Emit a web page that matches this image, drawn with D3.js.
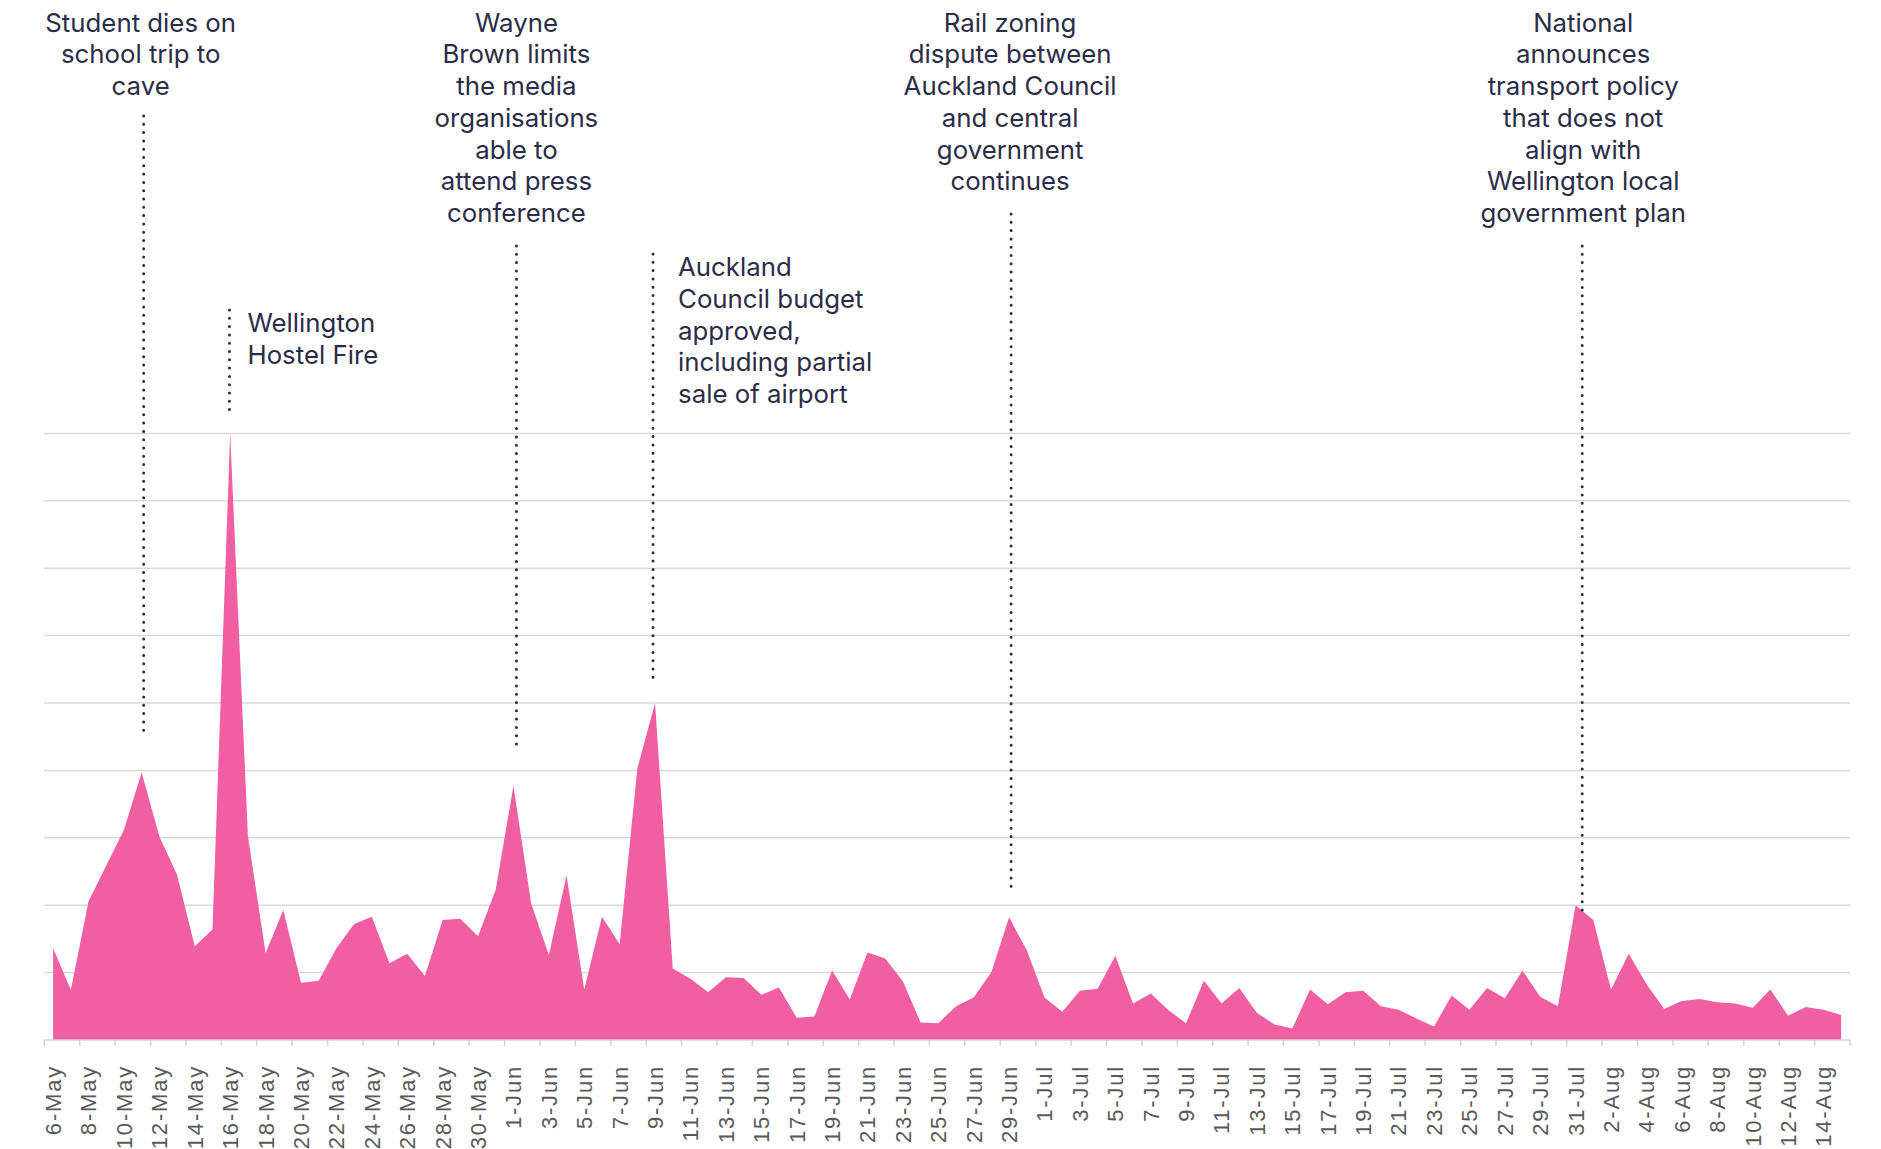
<!DOCTYPE html>
<html>
<head>
<meta charset="utf-8">
<script src="https://cdn.jsdelivr.net/npm/d3@7"></script>
<style>
  html, body { margin: 0; padding: 0; background: #ffffff; }
  svg { display: block; }
</style>
</head>
<body>
<svg id="chart" width="1881" height="1149"></svg>
<script>
// ---------- DATA ----------
const dates = [
  "6-May","7-May","8-May","9-May","10-May","11-May","12-May","13-May","14-May","15-May",
  "16-May","17-May","18-May","19-May","20-May","21-May","22-May","23-May","24-May","25-May",
  "26-May","27-May","28-May","29-May","30-May","31-May","1-Jun","2-Jun","3-Jun","4-Jun",
  "5-Jun","6-Jun","7-Jun","8-Jun","9-Jun","10-Jun","11-Jun","12-Jun","13-Jun","14-Jun",
  "15-Jun","16-Jun","17-Jun","18-Jun","19-Jun","20-Jun","21-Jun","22-Jun","23-Jun","24-Jun",
  "25-Jun","26-Jun","27-Jun","28-Jun","29-Jun","30-Jun","1-Jul","2-Jul","3-Jul","4-Jul",
  "5-Jul","6-Jul","7-Jul","8-Jul","9-Jul","10-Jul","11-Jul","12-Jul","13-Jul","14-Jul",
  "15-Jul","16-Jul","17-Jul","18-Jul","19-Jul","20-Jul","21-Jul","22-Jul","23-Jul","24-Jul",
  "25-Jul","26-Jul","27-Jul","28-Jul","29-Jul","30-Jul","31-Jul","1-Aug","2-Aug","3-Aug",
  "4-Aug","5-Aug","6-Aug","7-Aug","8-Aug","9-Aug","10-Aug","11-Aug","12-Aug","13-Aug",
  "14-Aug","15-Aug"
];

const mentions = [
  136, 74, 206, 259, 312, 397, 302, 245, 139, 164,
  900, 303, 129, 193, 85, 88, 136, 172, 183, 114,
  128, 95, 178, 180, 154, 223, 377, 203, 126, 244,
  75, 183, 142, 403, 500, 106, 91, 71, 93, 92,
  67, 78, 33, 35, 103, 60, 130, 121, 87, 26,
  25, 50, 63, 101, 182, 133, 63, 42, 73, 76,
  125, 54, 69, 44, 25, 88, 54, 77, 40, 23,
  17, 75, 53, 71, 73, 50, 45, 32, 20, 66,
  45, 77, 62, 103, 64, 50, 200, 178, 75, 128,
  83, 46, 58, 61, 56, 54, 48, 75, 36, 49,
  45, 37
];

const gridValues = [100, 200, 300, 400, 500, 600, 700, 800, 900];

const annotationDates = ["11-May", "16-May", "1-Jun", "9-Jun", "29-Jun", "31-Jul"];
const annotationTexts = [
  ["Student dies on", "school trip to", "cave"],
  ["Wellington", "Hostel Fire"],
  ["Wayne", "Brown limits", "the media", "organisations", "able to", "attend press", "conference"],
  ["Auckland", "Council budget", "approved,", "including partial", "sale of airport"],
  ["Rail zoning", "dispute between", "Auckland Council", "and central", "government", "continues"],
  ["National", "announces", "transport policy", "that does not", "align with", "Wellington local", "government plan"]
];

// ---------- LAYOUT (positions / styles, not data) ----------
const annotationLayout = [
  { lineDx: 2,   top: 116, bottom: 735, anchor: "middle", textDx: -3, firstBaseline: 31.7 },
  { lineDx: -0.7,top: 310, bottom: 415, anchor: "start",  textDx: 18, firstBaseline: 332 },
  { lineDx: 3,   top: 246, bottom: 749, anchor: "middle", textDx: 0,  firstBaseline: 31.7 },
  { lineDx: -2,  top: 254, bottom: 680, anchor: "start",  textDx: 25, firstBaseline: 276 },
  { lineDx: 2,   top: 214, bottom: 889, anchor: "middle", textDx: -1, firstBaseline: 31.7 },
  { lineDx: 6.6, top: 246, bottom: 912, anchor: "middle", textDx: 1,  firstBaseline: 31.7 }
];
const lineHeight = 31.75;
const plotLeft = 44.3, plotRight = 1850, baseY = 1040, topY = 433.4;
const pink = "#ef5fa2";
const ink = "#2a2c48";

// ---------- SCALES ----------
const x = d3.scaleBand().domain(dates).range([plotLeft, plotRight]).padding(0);
const bw = x.bandwidth();
const cx = d => x(d) + bw / 2;
const y = d3.scaleLinear().domain([0, 900]).range([baseY, topY]);

const svg = d3.select("#chart");

// gridlines
svg.append("g").selectAll("line").data(gridValues).join("line")
  .attr("x1", plotLeft).attr("x2", plotRight)
  .attr("y1", d => y(d)).attr("y2", d => y(d))
  .attr("stroke", "#d9d9d9").attr("stroke-width", 1.5);

// area
const series = dates.map((d, i) => ({ date: d, value: mentions[i] }));
const area = d3.area()
  .x(d => cx(d.date))
  .y0(y(0))
  .y1(d => y(d.value))
  .curve(d3.curveLinear);
svg.append("path").datum(series)
  .attr("d", area)
  .attr("fill", pink);

// x axis: labels every 2 days, centred on the category
const labelDates = dates.filter((d, i) => i % 2 === 0);
const axis = d3.axisBottom(x).tickValues(labelDates).tickSize(0).tickPadding(0);
const axG = svg.append("g").attr("transform", `translate(0,${baseY})`).call(axis);
axG.select(".domain").remove();
axG.selectAll(".tick text")
  .attr("transform", "rotate(-90)")
  .attr("x", -25).attr("y", 0).attr("dy", "0.36em")
  .attr("text-anchor", "end")
  .attr("fill", "#595959")
  .style("font-family", "'Liberation Sans', Arial, sans-serif")
  .style("font-size", "22px")
  .style("letter-spacing", "1.8px");

// axis baseline and tick marks at category edges
svg.append("line")
  .attr("x1", plotLeft).attr("x2", plotRight)
  .attr("y1", baseY).attr("y2", baseY)
  .attr("stroke", "#d3d3d3").attr("stroke-width", 1.5);
const edgeTicks = labelDates.map(d => x(d)).concat([plotRight]);
svg.append("g").selectAll("line").data(edgeTicks).join("line")
  .attr("x1", d => d).attr("x2", d => d)
  .attr("y1", baseY).attr("y2", baseY + 6)
  .attr("stroke", "#d3d3d3").attr("stroke-width", 1.5);

// annotations
annotationDates.forEach((d, i) => {
  const L = annotationLayout[i];
  const lx = cx(d) + L.lineDx;
  svg.append("line")
    .attr("x1", lx).attr("x2", lx)
    .attr("y1", L.top).attr("y2", L.bottom)
    .attr("stroke", ink).attr("stroke-width", 3)
    .attr("stroke-linecap", "round")
    .attr("stroke-dasharray", "0 8.3");
  const t = svg.append("text")
    .attr("x", lx + L.textDx)
    .attr("y", L.firstBaseline)
    .attr("text-anchor", L.anchor)
    .attr("fill", ink)
    .style("font-family", "Inter, 'Noto Sans', sans-serif")
    .style("font-size", "25.8px");
  annotationTexts[i].forEach((line, k) => {
    t.append("tspan")
      .attr("x", lx + L.textDx)
      .attr("y", L.firstBaseline + k * lineHeight)
      .text(line);
  });
});
</script>
</body>
</html>
